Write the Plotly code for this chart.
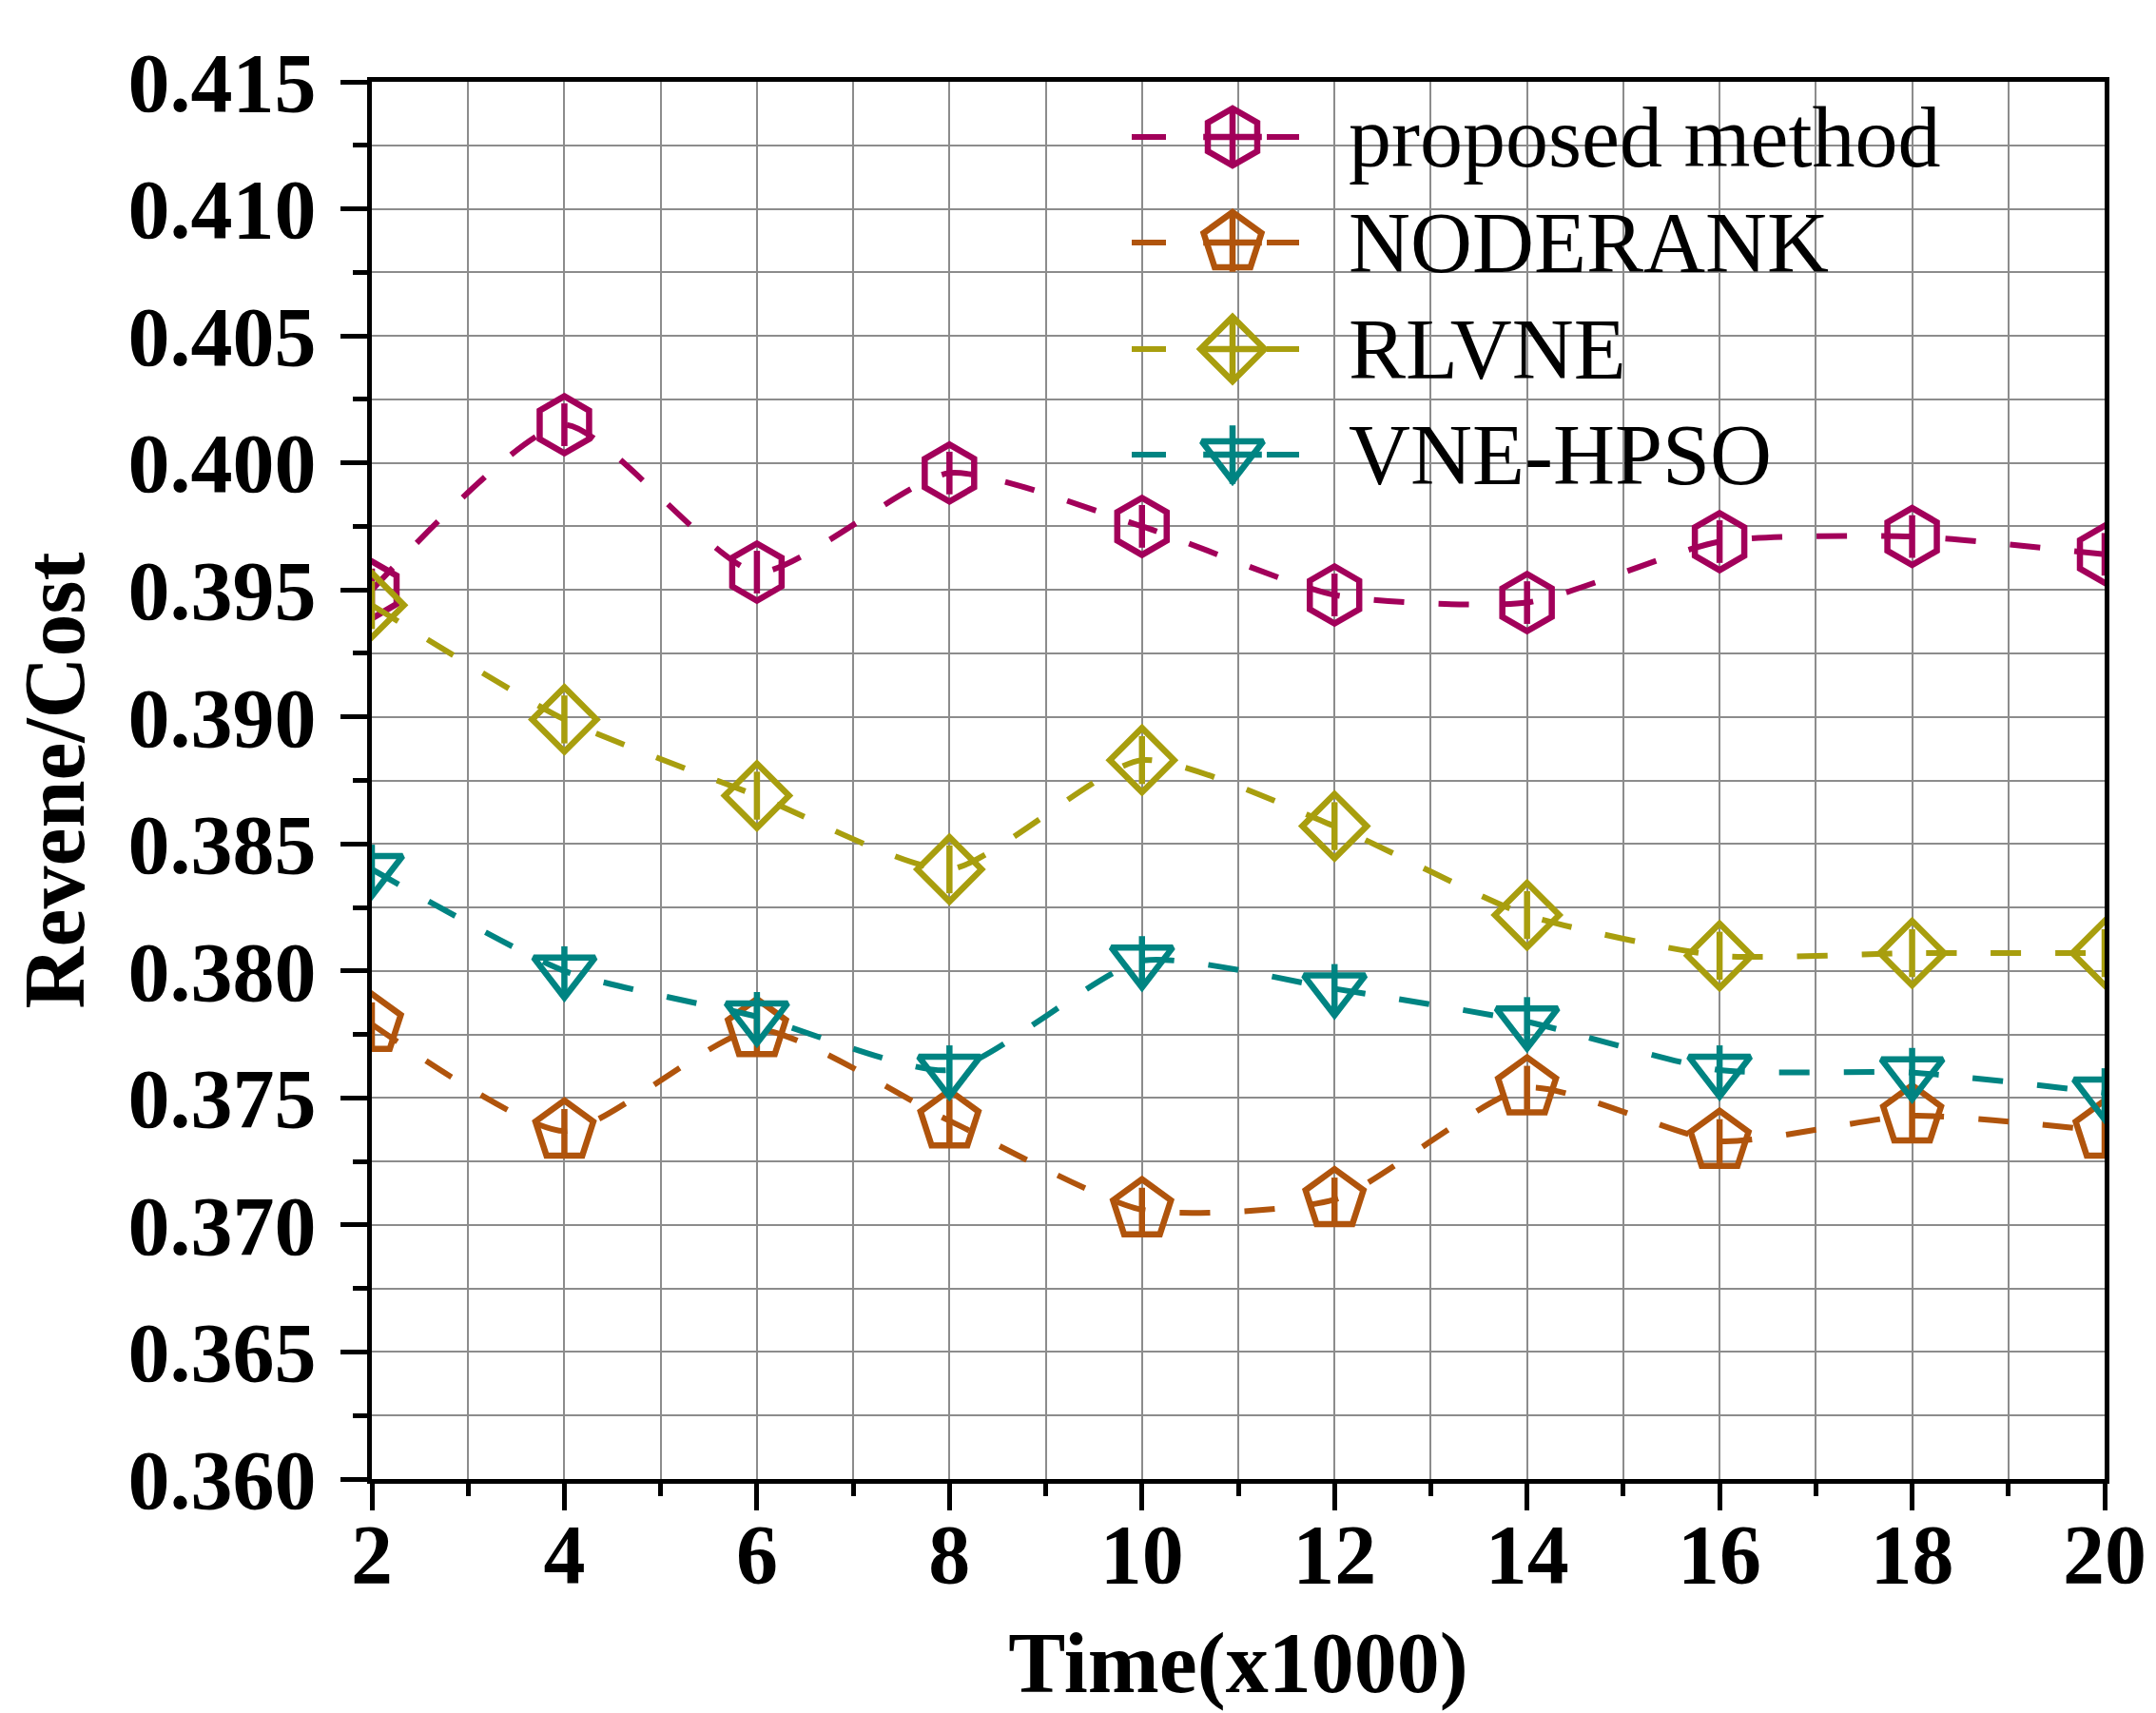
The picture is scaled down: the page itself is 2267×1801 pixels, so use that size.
import plotly.graph_objects as go

# x axis: time in thousands
time_k = [2, 4, 6, 8, 10, 12, 14, 16, 18, 20]

# revenue/cost per method
proposed = [0.3950, 0.4015, 0.3957, 0.3996, 0.3975, 0.3948, 0.3945, 0.3969, 0.3971, 0.3964]
noderank = [0.3779, 0.3737, 0.3777, 0.3741, 0.3706, 0.3710, 0.3754, 0.3733, 0.3743, 0.3737]
rlvne = [0.3944, 0.3899, 0.3869, 0.3840, 0.3883, 0.3857, 0.3822, 0.3806, 0.3807, 0.3807]
vne_hpso = [0.3840, 0.3800, 0.3782, 0.3761, 0.3804, 0.3793, 0.3780, 0.3761, 0.3760, 0.3752]

series_names = ["proposed method", "NODERANK", "RLVNE", "VNE-HPSO"]
series_values = [proposed, noderank, rlvne, vne_hpso]

# styling
series_colors = ["#A2005A", "#B0540C", "#A89E0E", "#008482"]
series_symbols = ["hexagon-open", "pentagon-open", "diamond-open", "triangle-down-open"]
marker_sizes = [60, 64, 52, 56]
bar_sizes = [32, 33, 36, 37]

FONT = "Liberation Serif"
LW = 6
MLW = 6.5

# plot area in page pixels
L, R, T, B = 383, 2205, 78, 1547
W, H = 2267, 1801

fig = go.Figure()
for name, ys, col, sym, ms, bs in zip(series_names, series_values, series_colors,
                                      series_symbols, marker_sizes, bar_sizes):
    fig.add_trace(go.Scatter(
        x=time_k, y=ys, name=name, mode="lines+markers", showlegend=False,
        line=dict(color=col, width=LW, dash="32px,36px", shape="spline", smoothing=0.6),
        marker=dict(symbol=sym, size=ms, color=col, line=dict(color=col, width=MLW)),
    ))
    # vertical bar drawn through each marker
    fig.add_trace(go.Scatter(
        x=time_k, y=ys, mode="markers", showlegend=False, hoverinfo="skip",
        marker=dict(symbol="line-ns-open", size=bs, color=col, line=dict(color=col, width=MLW)),
    ))

# hand-drawn legend on a pixel-scaled overlay axis
leg_rows = [136, 247, 359, 470]
for name, col, sym, ms, ry in zip(series_names, series_colors, series_symbols, marker_sizes, leg_rows):
    fig.add_trace(go.Scatter(
        x=[1182, 1218, None, 1324, 1358], y=[ry, ry, None, ry, ry],
        xaxis="x2", yaxis="y2", mode="lines", showlegend=False, hoverinfo="skip",
        line=dict(color=col, width=LW),
    ))
    fig.add_trace(go.Scatter(
        x=[1288], y=[ry], xaxis="x2", yaxis="y2", mode="markers", showlegend=False,
        hoverinfo="skip",
        marker=dict(symbol=sym, size=ms, color=col, line=dict(color=col, width=MLW)),
    ))
    fig.add_trace(go.Scatter(
        x=[1288], y=[ry], xaxis="x2", yaxis="y2", mode="markers", showlegend=False,
        hoverinfo="skip",
        marker=dict(symbol="cross-thin-open", size=44, color=col, line=dict(color=col, width=MLW)),
    ))
    fig.add_annotation(
        x=1408, y=ry, xref="x2", yref="y2", text=name, showarrow=False,
        xanchor="left", yanchor="middle",
        font=dict(family=FONT, size=90, color="black"),
    )

axis_common = dict(
    showline=True, linecolor="black", linewidth=5, mirror=True,
    ticks="outside", ticklen=28, tickwidth=5, tickcolor="black",
    showgrid=True, gridcolor="#8c8c8c", gridwidth=2,
    tickfont=dict(family=FONT, size=88, color="black", weight="bold"),
    zeroline=False,
)

xaxis = dict(
    range=[2, 20], tick0=2, dtick=2, ticklabelstandoff=-30,
    minor=dict(dtick=1, ticks="outside", ticklen=13, tickwidth=5, tickcolor="black",
               showgrid=True, gridcolor="#8c8c8c", gridwidth=2),
    title=dict(text="Time(x1000)", font=dict(family=FONT, size=90, color="black", weight="bold"),
               standoff=36),
    **axis_common,
)
yaxis = dict(
    range=[0.360, 0.415], tick0=0.360, dtick=0.005, tickformat=".3f", ticklabelstandoff=8,
    minor=dict(dtick=0.0025, ticks="outside", ticklen=15, tickwidth=5, tickcolor="black",
               showgrid=True, gridcolor="#8c8c8c", gridwidth=2),
    title=dict(text="Revene/Cost", font=dict(family=FONT, size=90, color="black", weight="bold"),
               standoff=18),
    **axis_common,
)

fig.update_layout(
    width=W, height=H,
    margin=dict(l=L, r=W - R, t=T, b=H - B, autoexpand=False),
    paper_bgcolor="white", plot_bgcolor="white",
    showlegend=False,
    xaxis=xaxis, yaxis=yaxis,
    xaxis2=dict(overlaying="x", range=[L, R], visible=False, anchor="y2"),
    yaxis2=dict(overlaying="y", range=[B, T], visible=False, anchor="x2"),
)

fig.write_html("out.html")
